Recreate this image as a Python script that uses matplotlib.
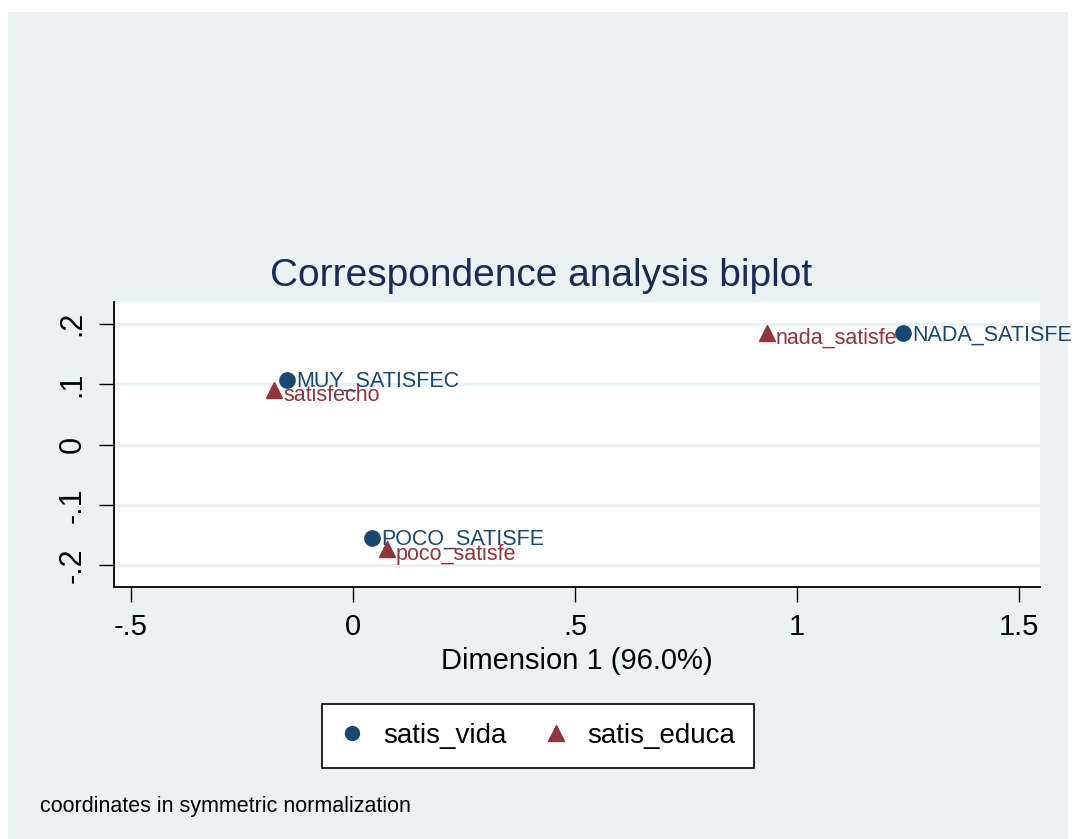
import matplotlib.pyplot as plt
from matplotlib.patches import Rectangle
from matplotlib.lines import Line2D

plt.rcParams['font.family'] = ['Liberation Sans', 'DejaVu Sans']

# Daten (Koordinaten in symmetrischer Normalisierung)
row_labels = ["MUY_SATISFEC", "POCO_SATISFE", "NADA_SATISFE"]
row_dim1 = [-0.149, 0.043, 1.239]
row_dim2 = [0.107, -0.155, 0.184]

col_labels = ["satisfecho", "poco_satisfe", "nada_satisfe"]
col_dim1 = [-0.177, 0.076, 0.932]
col_dim2 = [0.090, -0.173, 0.185]

x_ticks = [-0.5, 0, 0.5, 1, 1.5]
x_ticklabels = ["-.5", "0", ".5", "1", "1.5"]
y_ticks = [-0.2, -0.1, 0, 0.1, 0.2]
y_ticklabels = ["-.2", "-.1", "0", ".1", ".2"]

# Farben (Stata s2color)
navy = '#1a476f'
maroon = '#90353b'
bg = '#eaf2f3'

fig = plt.figure(figsize=(10.75, 8.39), dpi=100)
fig.patch.set_facecolor('white')
fig.patches.append(Rectangle((8 / 1075, 0), 1060 / 1075, 1 - 12 / 839,
                             transform=fig.transFigure, facecolor=bg,
                             edgecolor='none', zorder=-5))

ax = fig.add_axes([114 / 1075, 1 - 587 / 839, (1040 - 114) / 1075, (587 - 302) / 839])
ax.set_facecolor('white')

ax.plot(row_dim1, row_dim2, 'o', color=navy, markersize=11, zorder=3)
ax.plot(col_dim1, col_dim2, '^', color=maroon, markersize=12, zorder=3)

for lab, x, y in zip(row_labels, row_dim1, row_dim2):
    ax.annotate(lab, (x, y), xytext=(6.5, -1), textcoords='offset points',
                ha='left', va='center', fontsize=15.5, color=navy,
                annotation_clip=False, zorder=4)
for lab, x, y in zip(col_labels, col_dim1, col_dim2):
    ax.annotate(lab, (x, y), xytext=(6.5, -4), textcoords='offset points',
                ha='left', va='center', fontsize=15.5, color=maroon,
                annotation_clip=False, zorder=4)

ax.set_xlim(-0.538, 1.547)
ax.set_ylim(-0.236, 0.236)
ax.set_xticks(x_ticks)
ax.set_xticklabels(x_ticklabels, fontsize=21)
ax.set_yticks(y_ticks)
ax.set_yticklabels(y_ticklabels, fontsize=22, rotation=90, va='center')
ax.tick_params(axis='both', length=11, width=1, color='black', pad=8)
ax.grid(axis='y', color=bg, linewidth=2.5)
ax.set_axisbelow(True)

for side in ['top', 'right']:
    ax.spines[side].set_visible(False)
for side in ['left', 'bottom']:
    ax.spines[side].set_linewidth(1.3)
    ax.spines[side].set_color('black')

ax.set_xlabel("Dimension 1 (96.0%)", fontsize=21, labelpad=4)

fig.text(541 / 1075, 1 - 286 / 839, "Correspondence analysis biplot",
         ha='center', va='baseline', fontsize=28, color='#1a2a57')

handles = [
    Line2D([], [], marker='o', linestyle='none', color=navy, markersize=10),
    Line2D([], [], marker='^', linestyle='none', color=maroon, markersize=11),
]
leg = fig.legend(handles, ["satis_vida", "satis_educa"], ncol=2, loc='center',
                 bbox_to_anchor=(538 / 1075, 1 - 736 / 839), fontsize=20,
                 frameon=True, fancybox=False, edgecolor='black',
                 facecolor='white', framealpha=1,
                 handlelength=0.8, handletextpad=0.7, columnspacing=1.4,
                 borderpad=0.7)
leg.get_frame().set_linewidth(1.2)

fig.text(40 / 1075, 1 - 812 / 839, "coordinates in symmetric normalization",
         ha='left', va='baseline', fontsize=15.5, color='black')

fig.savefig("out.png", dpi=100)
